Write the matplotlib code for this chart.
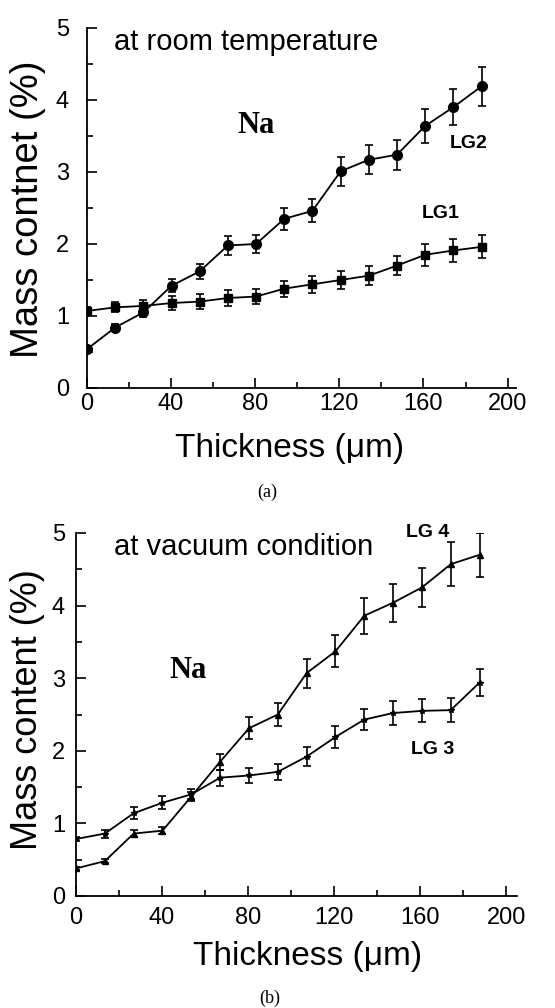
import numpy as np
import matplotlib
matplotlib.use("Agg")
import matplotlib.pyplot as plt
from matplotlib.ticker import MultipleLocator

plt.rcParams['font.family'] = ['Liberation Sans', 'DejaVu Sans']

# (a) room temperature
x_a = [0, 13.4, 26.8, 40.2, 53.6, 67, 80.4, 93.8, 107.2, 120.6, 134, 147.4, 160.8, 174.2, 187.6]
lg2 = [0.54, 0.84, 1.05, 1.42, 1.62, 1.98, 2.00, 2.35, 2.46, 3.01, 3.17, 3.24, 3.64, 3.90, 4.19]
lg2_err = [0.04, 0.05, 0.06, 0.09, 0.10, 0.13, 0.13, 0.15, 0.16, 0.20, 0.20, 0.21, 0.24, 0.25, 0.27]
lg1 = [1.07, 1.12, 1.14, 1.18, 1.20, 1.25, 1.27, 1.38, 1.44, 1.50, 1.56, 1.70, 1.85, 1.91, 1.96]
lg1_err = [0.05, 0.07, 0.08, 0.10, 0.10, 0.11, 0.10, 0.11, 0.12, 0.12, 0.13, 0.13, 0.15, 0.155, 0.16]

# (b) vacuum condition
x_b = [0, 13.4, 26.8, 40.2, 53.6, 67, 80.4, 93.8, 107.2, 120.6, 134, 147.4, 160.8, 174.2, 187.6]
lg4 = [0.38, 0.48, 0.86, 0.90, 1.37, 1.85, 2.31, 2.50, 3.07, 3.37, 3.86, 4.04, 4.25, 4.57, 4.70]
lg4_err = [0.02, 0.03, 0.05, 0.05, 0.06, 0.11, 0.15, 0.16, 0.20, 0.22, 0.25, 0.26, 0.27, 0.30, 0.30]
lg3 = [0.785, 0.86, 1.14, 1.285, 1.40, 1.63, 1.66, 1.71, 1.92, 2.19, 2.43, 2.52, 2.55, 2.56, 2.94]
lg3_err = [0.03, 0.055, 0.08, 0.09, 0.07, 0.11, 0.10, 0.11, 0.13, 0.15, 0.15, 0.165, 0.16, 0.165, 0.19]

W, H = 555, 1008
fig = plt.figure(figsize=(W / 100, H / 100), dpi=100)

def px_axes(left, right, top, bottom):
    return fig.add_axes([left / W, 1 - bottom / H, (right - left) / W, (bottom - top) / H])

def style(ax, xmax, ypad, xpad):
    ax.set_xlim(0, xmax)
    ax.set_ylim(0, 5)
    for s in ['top', 'right']:
        ax.spines[s].set_visible(False)
    for s in ['left', 'bottom']:
        ax.spines[s].set_linewidth(1.3)
    ax.xaxis.set_major_locator(MultipleLocator(40))
    ax.xaxis.set_minor_locator(MultipleLocator(20))
    ax.yaxis.set_major_locator(MultipleLocator(1))
    ax.yaxis.set_minor_locator(MultipleLocator(0.5))
    ax.tick_params(which='both', direction='in', labelsize=17, width=1.2)
    ax.tick_params(which='major', length=7)
    ax.tick_params(which='minor', length=4)
    ax.tick_params(axis='y', pad=ypad)
    ax.tick_params(axis='x', pad=xpad)

eb = dict(color='black', lw=1.3, elinewidth=1.2, capsize=3.2, capthick=1.2)

# ---- panel (a)
ax1 = px_axes(87, 516, 28, 388)
style(ax1, 204, 13, 3.5)
ax1.errorbar(x_a, lg2, yerr=lg2_err, marker='o', ms=7, **eb)
ax1.errorbar(x_a, lg1, yerr=lg1_err, marker='s', ms=5.5, **eb)
ax1.text(12.9, 4.8, 'at room temperature', fontsize=21, ha='left', va='center')
ax1.text(80.5, 3.64, 'Na', fontsize=22, fontweight='bold', family='Liberation Serif',
         ha='center', va='center')
ax1.text(181.4, 3.40, 'LG2', fontsize=14, fontweight='bold', ha='center', va='center')
ax1.text(168, 2.43, 'LG1', fontsize=14, fontweight='bold', ha='center', va='center')
fig.text(28 / W, 1 - 209 / H, 'Mass contnet (%)', fontsize=27.5, rotation=90,
         ha='center', va='center')
fig.text(290 / W, 1 - 448 / H, 'Thickness (μm)', fontsize=24, ha='center', va='center')
fig.text(267 / W, 1 - 492 / H, '(a)', fontsize=13, family='Liberation Serif',
         ha='center', va='center')

# ---- panel (b)
ax2 = px_axes(76, 517, 533, 896)
style(ax2, 205, 8, 8)
ax2.errorbar(x_b, lg4, yerr=lg4_err, marker='^', ms=4, **eb)
ax2.errorbar(x_b, lg3, yerr=lg3_err, marker='*', ms=4, **eb)
ax2.text(17.7, 4.81, 'at vacuum condition', fontsize=21, ha='left', va='center')
ax2.text(52.3, 3.11, 'Na', fontsize=22, fontweight='bold', family='Liberation Serif',
         ha='center', va='center')
ax2.text(163.3, 5.01, 'LG 4', fontsize=14, fontweight='bold', ha='center', va='center')
ax2.text(166, 2.02, 'LG 3', fontsize=14, fontweight='bold', ha='center', va='center')
fig.text(28 / W, 1 - 710 / H, 'Mass content (%)', fontsize=26, rotation=90,
         ha='center', va='center')
fig.text(308 / W, 1 - 957 / H, 'Thickness (μm)', fontsize=24, ha='center', va='center')
fig.text(270 / W, 1 - 998 / H, '(b)', fontsize=13, family='Liberation Serif',
         ha='center', va='center')

fig.savefig('out.png', dpi=100)
